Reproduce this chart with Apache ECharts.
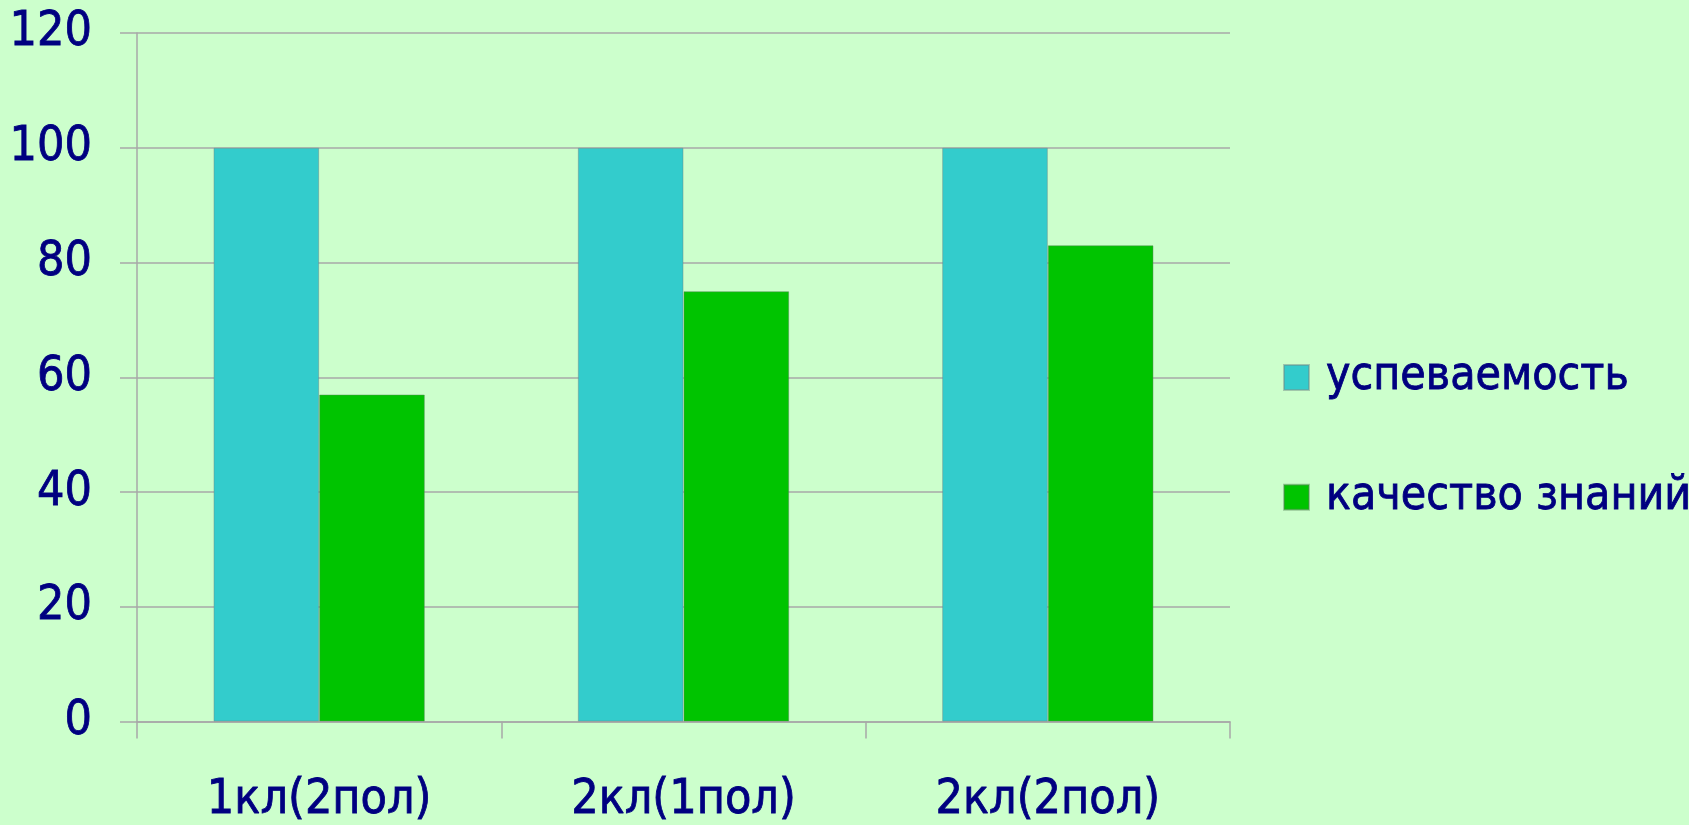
<!DOCTYPE html>
<html>
<head>
<meta charset="utf-8">
<script src="https://cdn.jsdelivr.net/npm/echarts@6/dist/echarts.min.js"></script>
<style>
html,body{margin:0;padding:0;background:#CCFFCC;}
#chart{width:1689px;height:825px;}
</style>
</head>
<body>
<div id="chart"></div>
<script>
const categories = ['1кл(2пол)', '2кл(1пол)', '2кл(2пол)'];
const seriesNames = ['успеваемость', 'качество знаний'];
const uspevaemost = [100, 100, 100];
const kachestvo = [57, 75, 83];
const yTicks = { min: 0, max: 120, interval: 20 };

const FONT = 'DejaVu Sans Condensed';
const TEXT = '#000080';
const GRID = '#A8A8A8';

const chart = echarts.init(document.getElementById('chart'));
chart.setOption({
  backgroundColor: '#CCFFCC',
  animation: false,
  grid: { left: 137, right: 459, top: 33, bottom: 102, containLabel: false },
  legend: {
    orient: 'vertical',
    left: 1278,
    top: 349,
    itemWidth: 25,
    itemHeight: 25,
    itemGap: 73,
    icon: 'rect',
    textStyle: { fontFamily: FONT, fontSize: 46, color: TEXT, lineHeight: 46, padding: [0, 0, 0, 12],
                 textBorderColor: TEXT, textBorderWidth: 0.8 },
    data: seriesNames
  },
  xAxis: {
    type: 'category',
    data: categories,
    boundaryGap: true,
    axisLine: { show: true, lineStyle: { color: GRID, width: 1.5 } },
    axisTick: { show: true, length: 17, lineStyle: { color: GRID, width: 1.5 } },
    axisLabel: { fontFamily: FONT, fontSize: 48, color: TEXT, margin: 55,
                 textBorderColor: TEXT, textBorderWidth: 0.8 },
    splitLine: { show: false }
  },
  yAxis: {
    type: 'value',
    min: yTicks.min,
    max: yTicks.max,
    interval: yTicks.interval,
    axisLine: { show: true, lineStyle: { color: GRID, width: 1.5 } },
    axisTick: { show: true, length: 17, lineStyle: { color: GRID, width: 1.5 } },
    axisLabel: { fontFamily: FONT, fontSize: 48, color: TEXT, margin: 45,
                 textBorderColor: TEXT, textBorderWidth: 0.8 },
    splitLine: { show: true, lineStyle: { color: GRID, width: 1.5 } }
  },
  series: [
    {
      name: seriesNames[0],
      type: 'bar',
      data: uspevaemost,
      barGap: '0%',
      barCategoryGap: '42%',
      itemStyle: { color: '#33CCCC', borderColor: 'rgba(110,130,130,0.45)', borderWidth: 1 }
    },
    {
      name: seriesNames[1],
      type: 'bar',
      data: kachestvo,
      barGap: '0%',
      barCategoryGap: '42%',
      itemStyle: { color: '#00C400', borderColor: 'rgba(90,130,90,0.45)', borderWidth: 1 }
    }
  ]
});
</script>
</body>
</html>
